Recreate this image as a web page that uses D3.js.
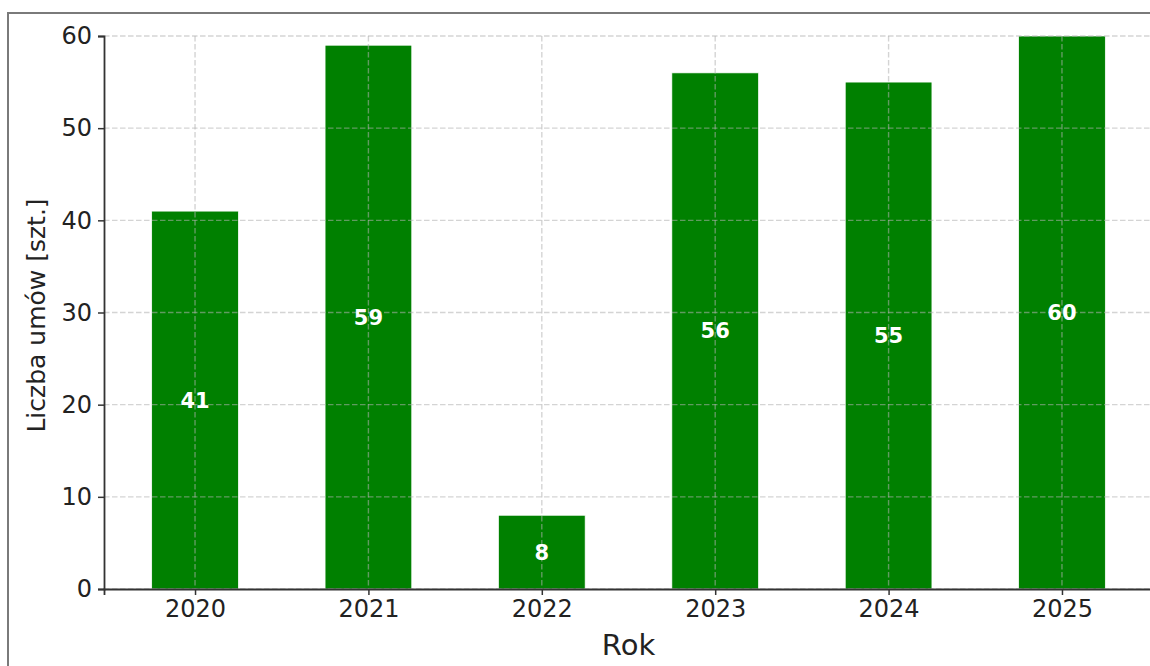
<!DOCTYPE html>
<html>
<head>
<meta charset="utf-8">
<script src="https://cdn.jsdelivr.net/npm/d3@7"></script>
<style>
  body { margin: 0; background: #fff; }
  svg { display: block; font-family: "DejaVu Sans", sans-serif; }
</style>
</head>
<body>
<div id="chart"></div>
<script>
// data
const years = ["2020", "2021", "2022", "2023", "2024", "2025"];
const counts = [41, 59, 8, 56, 55, 60];
const yTicks = [0, 10, 20, 30, 40, 50, 60];

const width = 1150;
const height = 666;
const margin = { top: 36, right: -3, bottom: 77, left: 104 };

const svg = d3.select("#chart").append("svg")
    .attr("width", width)
    .attr("height", height)
    .attr("viewBox", `0 0 ${width} ${height}`);

// figure frame
svg.append("rect")
    .attr("x", 8)
    .attr("y", 13)
    .attr("width", width + 20)
    .attr("height", height + 20)
    .attr("fill", "none")
    .attr("stroke", "#7a7a7a")
    .attr("stroke-width", 2);

const plotW = width - margin.left - margin.right;
const plotH = height - margin.top - margin.bottom;

const g = svg.append("g")
    .attr("transform", `translate(${margin.left},${margin.top})`);

// matplotlib-like x: index -0.525 .. 5.525
const x = d3.scaleLinear()
    .domain([-0.525, years.length - 1 + 0.525])
    .range([0, plotW]);

const y = d3.scaleLinear()
    .domain([0, 60])
    .range([plotH, 0]);

const barW = x(0.5) - x(0);

// bars
g.selectAll("rect.bar")
    .data(counts)
    .join("rect")
    .attr("class", "bar")
    .attr("x", (d, i) => x(i) - barW / 2)
    .attr("y", d => y(d))
    .attr("width", barW)
    .attr("height", d => plotH - y(d))
    .attr("fill", "#008000")
    .attr("stroke", "#ffffff")
    .attr("stroke-width", 0.7);

// grid on top of bars
const grid = g.append("g").attr("class", "grid");
grid.selectAll("line.h")
    .data(yTicks)
    .join("line")
    .attr("class", "h")
    .attr("x1", 0)
    .attr("x2", plotW)
    .attr("y1", d => y(d))
    .attr("y2", d => y(d));
grid.selectAll("line.v")
    .data(years)
    .join("line")
    .attr("class", "v")
    .attr("x1", (d, i) => x(i))
    .attr("x2", (d, i) => x(i))
    .attr("y1", 0)
    .attr("y2", plotH);
grid.selectAll("line")
    .attr("stroke", "#b0b0b0")
    .attr("stroke-opacity", 0.55)
    .attr("stroke-width", 1.4)
    .attr("stroke-dasharray", "5.5,2.5");

// value labels
g.selectAll("text.val")
    .data(counts)
    .join("text")
    .attr("class", "val")
    .attr("x", (d, i) => x(i))
    .attr("y", d => y(d / 2))
    .attr("dy", "0.36em")
    .attr("text-anchor", "middle")
    .attr("fill", "#fff")
    .attr("font-weight", "bold")
    .attr("font-size", "21px")
    .text(d => d);

// axes
const xAxis = g.append("g")
    .attr("transform", `translate(0,${plotH})`)
    .call(d3.axisBottom(x)
        .tickValues(d3.range(years.length))
        .tickFormat(i => years[i])
        .tickSize(6)
        .tickPadding(5));

const yAxis = g.append("g")
    .call(d3.axisLeft(y)
        .tickValues(yTicks)
        .tickSize(6)
        .tickPadding(6));

[xAxis, yAxis].forEach(a => {
    a.select(".domain").attr("stroke", "#333").attr("stroke-width", 1.8);
    a.selectAll(".tick line").attr("stroke", "#333").attr("stroke-width", 1.5);
    a.selectAll(".tick text")
        .attr("fill", "#222")
        .attr("font-size", "24px")
        .attr("font-family", "DejaVu Sans, sans-serif");
});

// axis titles
svg.append("text")
    .attr("x", margin.left + x(2.5))
    .attr("y", 655)
    .attr("text-anchor", "middle")
    .attr("font-size", "29px")
    .attr("fill", "#222")
    .text("Rok");

svg.append("text")
    .attr("transform", `translate(45,${margin.top + plotH / 2 + 3}) rotate(-90)`)
    .attr("text-anchor", "middle")
    .attr("font-size", "25px")
    .attr("fill", "#222")
    .text("Liczba umów [szt.]");
</script>
</body>
</html>
